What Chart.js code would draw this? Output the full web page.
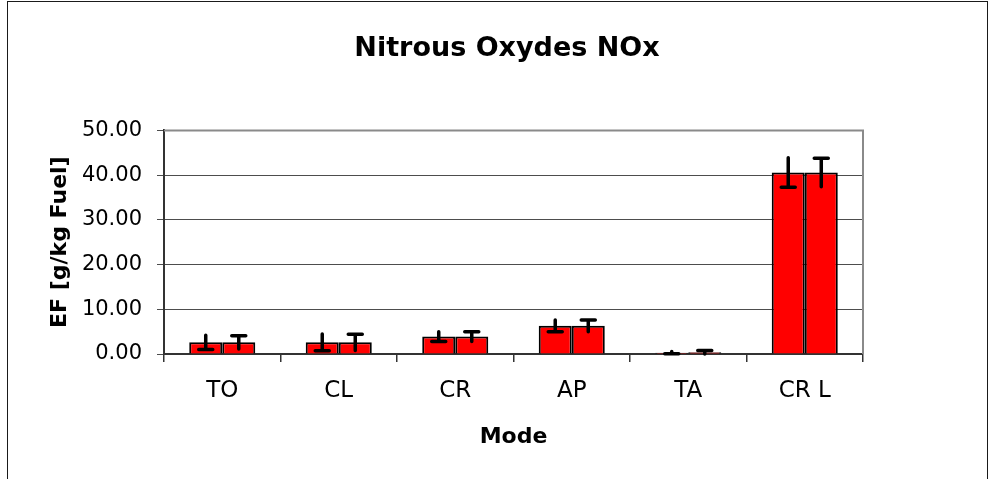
<!DOCTYPE html>
<html>
<head>
<meta charset="utf-8">
<script src="https://cdn.jsdelivr.net/npm/chart.js@4"></script>
<style>
  html, body { margin: 0; padding: 0; background: #fff; }
  #wrap { width: 992px; height: 479px; }
</style>
</head>
<body>
<div id="wrap"><canvas id="nox-chart" width="992" height="479"></canvas></div>
<script>
// NOx emission factors per flight mode, two measurement series
const modes = ['TO', 'CL', 'CR', 'AP', 'TA', 'CR L'];
const seriesA = [2.6, 2.6, 3.9, 6.3, 0.3, 40.6];
const seriesB = [2.6, 2.6, 3.9, 6.3, 0.4, 40.6];
const errorsA = [1.6, 1.9, 1.1, 1.3, 0.25, 3.3];
const errorsB = [1.5, 1.8, 1.1, 1.3, 0.4, 3.2];
const yTicks = [0, 10, 20, 30, 40, 50];

const FONT = "'DejaVu Sans', 'Liberation Sans', Arial, sans-serif";

// plot area frame (gray top + right) and outer chart frame
const frames = {
  id: 'frames',
  beforeDatasetsDraw(chart) {
    const { ctx, chartArea: a } = chart;
    ctx.save();
    ctx.strokeStyle = '#8a8a8a';
    ctx.lineWidth = 2;
    ctx.beginPath();
    ctx.moveTo(a.left, a.top);
    ctx.lineTo(a.right, a.top);
    ctx.lineTo(a.right, a.bottom);
    ctx.stroke();
    ctx.restore();
  },
  afterDraw(chart) {
    const ctx = chart.ctx;
    ctx.save();
    ctx.strokeStyle = '#1a1a1a';
    ctx.lineWidth = 1;
    ctx.strokeRect(7.5, 1.5, 980, 600);
    ctx.restore();
  }
};

// error bars: first series capped at the low end, second at the high end
const errorBars = {
  id: 'errorBars',
  afterDatasetsDraw(chart) {
    const ctx = chart.ctx;
    const y = chart.scales.y;
    chart.data.datasets.forEach((ds, i) => {
      const meta = chart.getDatasetMeta(i);
      meta.data.forEach((bar, j) => {
        const v = ds.data[j];
        const e = ds.errors[j];
        const hi = y.getPixelForValue(v + e);
        const lo = y.getPixelForValue(v - e);
        const capY = ds.capEnd === 'low' ? lo : hi;
        ctx.save();
        ctx.strokeStyle = '#000';
        ctx.lineWidth = 3.5;
        ctx.lineCap = 'round';
        ctx.beginPath();
        ctx.moveTo(bar.x, hi);
        ctx.lineTo(bar.x, lo);
        ctx.moveTo(bar.x - 7, capY);
        ctx.lineTo(bar.x + 7, capY);
        ctx.stroke();
        ctx.restore();
      });
    });
  }
};

const barStyle = {
  backgroundColor: '#ff0000',
  borderColor: '#000000',
  borderWidth: 2,
  barPercentage: 1,
  categoryPercentage: 0.567
};

const ctx = document.getElementById('nox-chart').getContext('2d');
new Chart(ctx, {
  type: 'bar',
  data: {
    labels: modes,
    datasets: [
      { ...barStyle, data: seriesA, errors: errorsA, capEnd: 'low' },
      { ...barStyle, data: seriesB, errors: errorsB, capEnd: 'high' }
    ]
  },
  options: {
    responsive: false,
    devicePixelRatio: 1,
    animation: false,
    layout: { padding: { left: 22, right: 0, top: 0, bottom: 0 } },
    plugins: {
      colors: { enabled: false },
      legend: { display: false },
      tooltip: { enabled: false },
      title: {
        display: true,
        text: 'Nitrous Oxydes NOx',
        color: '#000',
        font: { family: FONT, size: 27, weight: 'bold' },
        padding: { top: 33, bottom: 65 }
      }
    },
    scales: {
      x: {
        grid: { drawOnChartArea: false, color: '#333', tickLength: 8, lineWidth: 1.5 },
        border: { color: '#333', width: 2 },
        ticks: { color: '#000', font: { family: FONT, size: 23 }, padding: 15 },
        title: {
          display: true,
          text: 'Mode',
          color: '#000',
          font: { family: FONT, size: 22, weight: 'bold' },
          padding: { top: 0, bottom: 29 }
        },
        afterFit: s => { s.height = 125; }
      },
      y: {
        min: 0,
        max: 50,
        afterBuildTicks: s => { s.ticks = yTicks.map(v => ({ value: v })); },
        grid: { color: '#4d4d4d', lineWidth: 1, tickLength: 7 },
        border: { color: '#333', width: 2 },
        ticks: {
          color: '#000',
          font: { family: FONT, size: 21 },
          padding: 15,
          callback: v => v.toFixed(2)
        },
        title: {
          display: true,
          text: 'EF [g/kg Fuel]',
          color: '#000',
          font: { family: FONT, size: 22, weight: 'bold' },
          padding: { top: 25, bottom: 0 }
        },
        afterFit: s => { s.width = 142; }
      },
      // empty right-hand strip so the plot ends where the reference plot ends
      spacer: {
        position: 'right',
        grid: { display: false },
        border: { display: false },
        ticks: { display: false },
        afterFit: s => { s.width = 129; }
      }
    }
  },
  plugins: [frames, errorBars]
});
</script>
</body>
</html>
